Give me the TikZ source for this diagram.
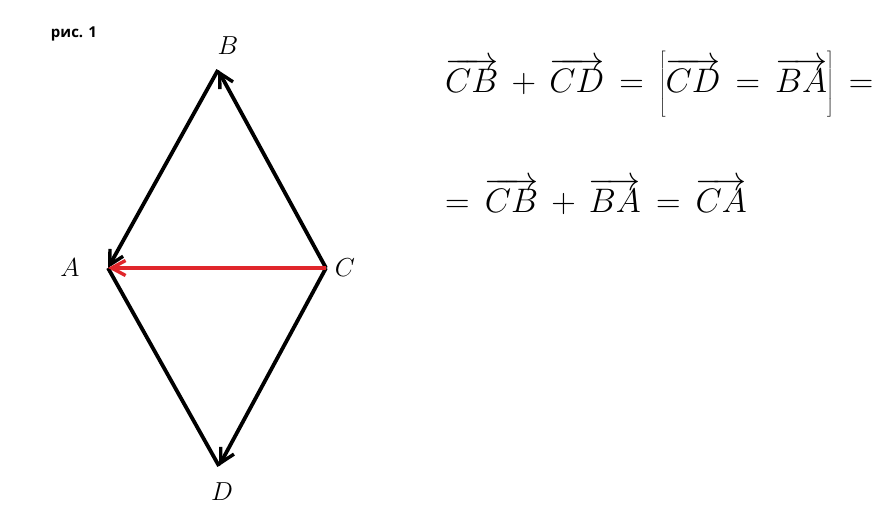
\RequirePackage{fix-cm}
\documentclass[tikz,border=0pt]{standalone}
\usepackage{fontspec}
\newfontfamily\figfont{Open Sans}
\usepackage{tikz}
\usetikzlibrary{arrows.meta,positioning}
\definecolor{vecred}{rgb}{0.88,0.15,0.17}
\tikzset{
  side/.style={draw=black, line width=3.8pt},
  vec/.style={side, -{Straight Barb[length=14pt,width=15pt,line width=3.4pt]}},
  redvec/.style={vec, draw=vecred},
  vertex/.style={font=\fontsize{26}{30}\selectfont},
  eqn/.style={font=\fontsize{34}{40}\selectfont, anchor=west, inner sep=0pt},
}

\begin{document}
\begin{tikzpicture}[x=1pt,y=-1pt]
\useasboundingbox (0,0) rectangle (888,520);

  \node[font=\figfont\bfseries\fontsize{15}{18}\selectfont] (fig) at (74,34) {рис. 1};

  % rhombus vertices
  \coordinate (B) at (218,70);
  \coordinate (A) at (108,268);
  \coordinate (C) at (326,268);
  \coordinate (D) at (219,466);

  \node[vertex] (labB) at (228,46) {$B$};
  \node[vertex] (labA) at (70,268) {$A$};
  \node[vertex] (labC) at (345,268) {$C$};
  \node[vertex] (labD) at (222,492) {$D$};

  \draw[side] (A) -- (D);
  \draw[vec] (C) -- (B);
  \draw[vec] (B) -- (A);
  \draw[vec] (C) -- (D);
  \draw[redvec] (C) -- (A);

  % equations
  \node[eqn] (eq1) at (445,84) {$\overrightarrow{CB}\,+\,\overrightarrow{CD}\,=\,\left[\vphantom{\rule{0pt}{42pt}}\overrightarrow{CD}\,=\,\overrightarrow{BA}\right]\,=$};
  \node[eqn] (eq2) at (445,196) {$=\,\overrightarrow{CB}\,+\,\overrightarrow{BA}\,=\,\overrightarrow{CA}$};
\end{tikzpicture}
\end{document}
